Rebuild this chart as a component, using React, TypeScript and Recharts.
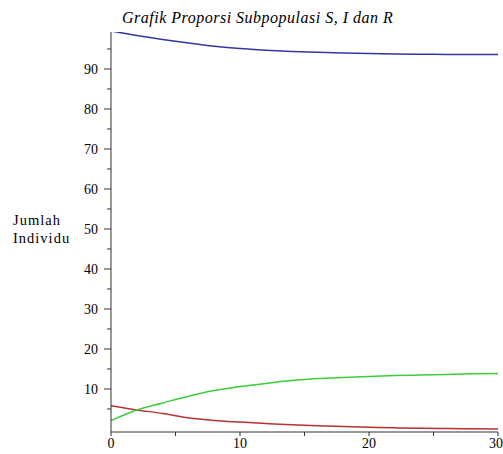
import { LineChart, Line, XAxis, YAxis } from "recharts";

// time (t) and the three subpopulations
const times = [0, 2, 4, 6, 8, 10, 12, 14, 16, 18, 20, 22, 24, 26, 28, 30];
const susceptible = [99.5, 98.4, 97.4, 96.5, 95.7, 95.1, 94.7, 94.4, 94.2, 94.0, 93.85, 93.75, 93.7, 93.65, 93.6, 93.6];
const infected = [5.8, 4.75, 3.9, 2.8, 2.15, 1.75, 1.4, 1.05, 0.8, 0.6, 0.45, 0.3, 0.17, 0.1, 0.05, 0.0];
const recovered = [2.1, 4.75, 6.5, 8.2, 9.6, 10.6, 11.4, 12.1, 12.6, 12.9, 13.15, 13.35, 13.5, 13.65, 13.8, 13.9];

const xTicks = [0, 5, 10, 15, 20, 25, 30];
const yTicks = [5, 10, 15, 20, 25, 30, 35, 40, 45, 50, 55, 60, 65, 70, 75, 80, 85, 90, 95];

const title = "Grafik Proporsi Subpopulasi S, I dan R";
const yLabel = ["Jumlah", "Individu"];

const data = times.map((t, i) => ({
  t,
  S: susceptible[i],
  I: infected[i],
  R: recovered[i],
}));

const axisColor = "#333";
const font = "'Liberation Serif', 'DejaVu Serif', serif";

function XTick({ x, y, payload }: any) {
  const v = payload.value as number;
  // last label sits against the right edge
  const last = v === 30;
  return (
    <g>
      <line x1={x} y1={y} x2={x} y2={y + 4} stroke={axisColor} />
      {v % 10 === 0 && (
        <text
          x={last ? 503 : x}
          y={y + 16}
          textAnchor={last ? "end" : "middle"}
          fontSize={14}
          fontFamily={font}
          fill="#000"
        >
          {v}
        </text>
      )}
    </g>
  );
}

function YTick({ x, y, payload }: any) {
  const v = payload.value as number;
  const major = v % 10 === 0;
  return (
    <g>
      <line x1={x - (major ? 7 : 4)} y1={y} x2={x} y2={y} stroke={axisColor} />
      {major && (
        <text x={x - 13} y={y} dy="0.35em" textAnchor="end" fontSize={14} fontFamily={font} fill="#000">
          {v}
        </text>
      )}
    </g>
  );
}

export default function App() {
  return (
    <div style={{ position: "absolute", left: 0, top: 0, width: 503, height: 454, background: "#fff", overflow: "hidden" }}>
      <div
        style={{
          position: "absolute",
          left: 122,
          top: 9,
          fontFamily: font,
          fontStyle: "italic",
          fontSize: 16,
          letterSpacing: 0.5,
          whiteSpace: "nowrap",
          color: "#000",
        }}
      >
        {title}
      </div>
      <div
        style={{
          position: "absolute",
          left: 13,
          top: 211,
          fontFamily: font,
          fontSize: 14.5,
          letterSpacing: 1,
          lineHeight: "18px",
          color: "#000",
        }}
      >
        {yLabel.map((l) => (
          <div key={l}>{l}</div>
        ))}
      </div>
      <LineChart
        width={503}
        height={454}
        data={data}
        margin={{ top: 32, right: 5, bottom: 0, left: 81 }}
      >
        <XAxis
          dataKey="t"
          type="number"
          domain={[0, 30]}
          ticks={xTicks}
          height={22}
          tickSize={0}
          tickMargin={0}
          tickLine={false}
          axisLine={{ stroke: axisColor }}
          tick={<XTick />}
          interval={0}
        />
        <YAxis
          type="number"
          domain={[-0.75, 99.25]}
          ticks={yTicks}
          width={30}
          tickSize={0}
          tickMargin={0}
          tickLine={false}
          axisLine={{ stroke: axisColor }}
          tick={<YTick />}
          interval={0}
          allowDataOverflow
        />
        <Line type="monotone" dataKey="S" stroke="#3535a5" strokeWidth={1.5} dot={false} isAnimationActive={false} />
        <Line type="monotone" dataKey="I" stroke="#b83232" strokeWidth={1.5} dot={false} isAnimationActive={false} />
        <Line type="monotone" dataKey="R" stroke="#3ccc3c" strokeWidth={1.5} dot={false} isAnimationActive={false} />
      </LineChart>
    </div>
  );
}
